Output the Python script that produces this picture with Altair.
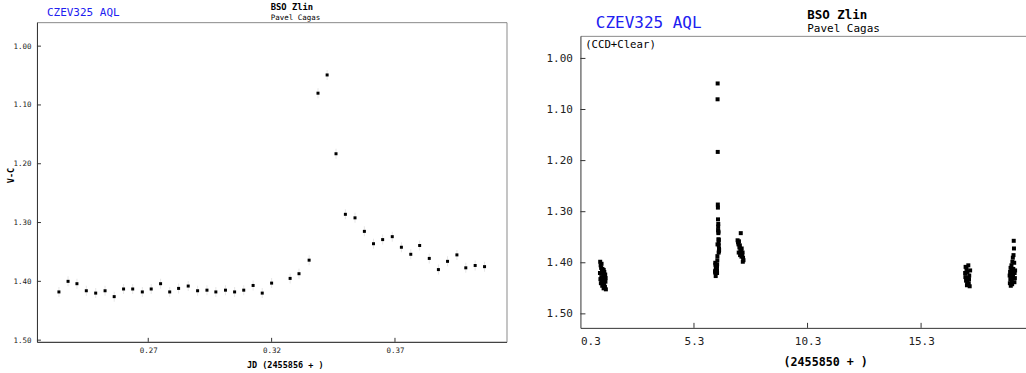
import altair as alt
import pandas as pd

# ---------------- data ----------------
# Left panel: night JD 2455856, V-C
left_jd = [0.2338, 0.2375, 0.2411, 0.2449, 0.2487, 0.2525, 0.2562, 0.2600, 0.2637, 0.2676,
           0.2712, 0.2750, 0.2787, 0.2823, 0.2862, 0.2900, 0.2938, 0.2974, 0.3013, 0.3050,
           0.3087, 0.3125, 0.3162, 0.3200, 0.3275, 0.3311, 0.3352, 0.3388, 0.3425, 0.3461,
           0.3499, 0.3538, 0.3576, 0.3613, 0.3650, 0.3689, 0.3726, 0.3764, 0.3800, 0.3839,
           0.3876, 0.3913, 0.3951, 0.3987, 0.4025, 0.4063]
left_vc = [1.418, 1.400, 1.404, 1.416, 1.420, 1.416, 1.426, 1.413, 1.413, 1.418,
           1.413, 1.404, 1.418, 1.412, 1.408, 1.416, 1.415, 1.418, 1.415, 1.418,
           1.415, 1.407, 1.420, 1.403, 1.395, 1.387, 1.364, 1.080, 1.049, 1.183,
           1.286, 1.292, 1.315, 1.336, 1.329, 1.324, 1.342, 1.354, 1.339, 1.361,
           1.380, 1.366, 1.355, 1.377, 1.373, 1.375]

# Right panel: other nights, time = JD - 2455850
c1_t = [1.16, 1.17, 1.18, 1.19, 1.20, 1.21, 1.22, 1.23, 1.24, 1.25, 1.26, 1.27, 1.28, 1.29, 1.30,
        1.31, 1.32, 1.33, 1.34, 1.35, 1.36, 1.37, 1.38, 1.39, 1.40, 1.41, 1.42, 1.325, 1.355]
c1_vc = [1.420, 1.398, 1.432, 1.405, 1.440, 1.410, 1.428, 1.402, 1.436, 1.415, 1.445, 1.412, 1.430, 1.418, 1.438,
         1.422, 1.450, 1.425, 1.442, 1.418, 1.433, 1.426, 1.447, 1.423, 1.437, 1.430, 1.452, 1.414, 1.429]
c3_t = [7.22, 7.24, 7.26, 7.28, 7.30, 7.32, 7.34, 7.36, 7.38, 7.40, 7.42, 7.44, 7.46, 7.48,
        7.27, 7.33, 7.39, 7.45]
c3_vc = [1.356, 1.360, 1.364, 1.358, 1.370, 1.366, 1.375, 1.342, 1.378, 1.372, 1.385, 1.380, 1.390, 1.395,
         1.380, 1.385, 1.388, 1.398]
c4_t = [17.24, 17.26, 17.28, 17.30, 17.32, 17.34, 17.36, 17.38, 17.40, 17.42, 17.44, 17.46,
        17.25, 17.33, 17.41]
c4_vc = [1.420, 1.408, 1.435, 1.412, 1.444, 1.418, 1.430, 1.405, 1.440, 1.425, 1.446, 1.415,
         1.428, 1.438, 1.432]
c5_t = [19.20, 19.21, 19.22, 19.23, 19.24, 19.25, 19.26, 19.27, 19.28, 19.29, 19.30, 19.31, 19.32,
        19.33, 19.34, 19.35, 19.36, 19.37, 19.38, 19.39, 19.40, 19.41, 19.42, 19.43, 19.44]
c5_vc = [1.425, 1.440, 1.418, 1.432, 1.410, 1.445, 1.428, 1.420, 1.405, 1.436, 1.415, 1.442, 1.398,
         1.430, 1.390, 1.425, 1.412, 1.385, 1.357, 1.372, 1.400, 1.438, 1.420, 1.430, 1.415]
left_night_offset = 6.0  # 2455856 - 2455850

left_xticks = [0.27, 0.32, 0.37]
right_xticks = [0.3, 5.3, 10.3, 15.3]
yticks = [1.00, 1.10, 1.20, 1.30, 1.40, 1.50]

star_name = "CZEV325 AQL"
observatory = "BSO Zlin"
observer = "Pavel Cagas"
filter_label = "(CCD+Clear)"

# ---------------- styling ----------------
FONT = "DejaVu Sans Mono"
BLUE = "#2020f0"
AXC = "#333333"
FRAME = "#8a8a8a"
LW, LH = 470, 320
RW, RH = 446, 306
R_TOP = 13.7          # visible frame top inside the right view


def txt(s, x, y, size, color="black", weight="normal"):
    return alt.Chart(pd.DataFrame({"t": [s]})).mark_text(
        font=FONT, fontSize=size, color=color, fontWeight=weight,
        align="left", baseline="alphabetic"
    ).encode(text="t:N", x=alt.value(x), y=alt.value(y))


def marker(x, y):
    return alt.Chart(pd.DataFrame({"t": [0]})).mark_rule(color="white", strokeWidth=0.5).encode(
        x=alt.value(x), x2=alt.value(x), y=alt.value(y), y2=alt.value(y))


# ---------------- left panel ----------------
left_df = pd.DataFrame({"jd": left_jd, "vc": left_vc})
lx = alt.X("jd:Q", scale=alt.Scale(domain=[0.2249, 0.4152], nice=False, zero=False),
           axis=alt.Axis(values=left_xticks, format=".2f", title="JD (2455856 + )", ticks=False,
                         grid=False, domainColor=AXC, labelFont=FONT, labelFontSize=7.5,
                         labelColor="#222", labelPadding=5, titleFont=FONT, titleFontSize=8.5,
                         titleFontWeight="bold", titleX=248, titleY=26, titleAlign="center",
                         titleBaseline="alphabetic"))
ly = alt.Y("vc:Q", scale=alt.Scale(domain=[0.9592, 1.5029], reverse=True, nice=False, zero=False),
           axis=alt.Axis(values=yticks, format=".2f", title="V-C", ticks=False, grid=False,
                         domainColor=AXC, labelFont=FONT, labelFontSize=7.5, labelColor="#222",
                         labelPadding=6, titleFont=FONT, titleFontSize=8.5, titleFontWeight="bold",
                         titleX=-26, titleY=153, titleAngle=270, titleAlign="center",
                         titleBaseline="middle"))

left_err = alt.Chart(left_df).mark_tick(orient="vertical", size=10, thickness=1, color="#dcdcdc").encode(x=lx, y=ly)
left_pts = alt.Chart(left_df).mark_square(size=9, color="black", opacity=1, filled=True).encode(x=lx, y=ly)
left_yt = alt.Chart(pd.DataFrame({"vc": yticks})).mark_rule(color=AXC).encode(
    y=ly, x=alt.value(0), x2=alt.value(4))
left_xt = alt.Chart(pd.DataFrame({"jd": left_xticks})).mark_rule(color=AXC).encode(
    x=lx, y=alt.value(LH), y2=alt.value(LH - 4))

left = alt.layer(
    left_err, left_pts, left_yt, left_xt,
    txt(star_name, 10, -6, 11, BLUE),
    txt(observatory, 234, -12, 8.8, "black", "bold"),
    txt(observer, 234, -2, 7.5),
    marker(-36, -21),
).properties(width=LW, height=LH, view=alt.ViewBackground(stroke=FRAME, strokeWidth=1))

# ---------------- right panel ----------------
right_t = c1_t + [t + left_night_offset for t in left_jd] + c3_t + c4_t + c5_t
right_vc = c1_vc + left_vc + c3_vc + c4_vc + c5_vc
right_df = pd.DataFrame({"t": right_t, "vc": right_vc})

rscale_x = alt.Scale(domain=[0.3, 19.92], nice=False, zero=False)
rx = alt.X("t:Q", scale=rscale_x,
           axis=alt.Axis(values=right_xticks, format=".1f", title="(2455850 + )", ticks=False,
                         grid=False, domainColor=AXC, labelFont=FONT, labelFontSize=11,
                         labelColor="#222", labelPadding=8, titleFont=FONT, titleFontSize=11.7,
                         titleFontWeight="bold", titleX=245, titleY=38, titleAlign="center",
                         titleBaseline="alphabetic"))
rx_plain = alt.X("t:Q", scale=rscale_x, axis=None)
rx_top = alt.X("t:Q", scale=rscale_x,
               axis=alt.Axis(orient="top", offset=-R_TOP, labels=False, ticks=False, title=None,
                             grid=False, domainColor=FRAME))
ry = alt.Y("vc:Q", scale=alt.Scale(domain=[0.9558, 1.5274], range=[R_TOP, RH], nice=False, zero=False),
           axis=alt.Axis(values=yticks, format=".2f", title=None, ticks=False, grid=False,
                         domainColor=AXC, labelFont=FONT, labelFontSize=11, labelColor="#222",
                         labelPadding=8))

right_pts = alt.Chart(right_df).mark_square(size=16, color="black", opacity=1, filled=True).encode(x=rx, y=ry)
right_yt = alt.Chart(pd.DataFrame({"vc": yticks})).mark_rule(color=AXC).encode(
    y=ry, x=alt.value(0), x2=alt.value(5))
right_xt = alt.Chart(pd.DataFrame({"t": right_xticks[1:]})).mark_rule(color=AXC).encode(
    x=rx_plain, y=alt.value(RH), y2=alt.value(RH - 5))
right_topaxis = alt.Chart(pd.DataFrame({"t": right_xticks})).mark_point(opacity=0).encode(
    x=rx_top, y=alt.value(RH))

right = alt.layer(
    right_pts, right_yt, right_xt, right_topaxis,
    txt(star_name, 15.4, 5.7, 16, BLUE),
    txt(observatory, 227, -3.3, 12.5, "black", "bold"),
    txt(observer, 227, 9.5, 11),
    txt(filter_label, 4.7, 26, 10.7),
    marker(-60, -21),
).resolve_axis(x="independent").properties(
    width=RW, height=RH, view=alt.ViewBackground(strokeOpacity=0))

chart = alt.concat(left, right, columns=2, spacing=12, align="none").properties(
    padding={"left": 0, "top": 0, "right": 0, "bottom": 0}
).configure(background="white")

chart.save("out.html", embed_options={"renderer": "svg", "actions": False})
